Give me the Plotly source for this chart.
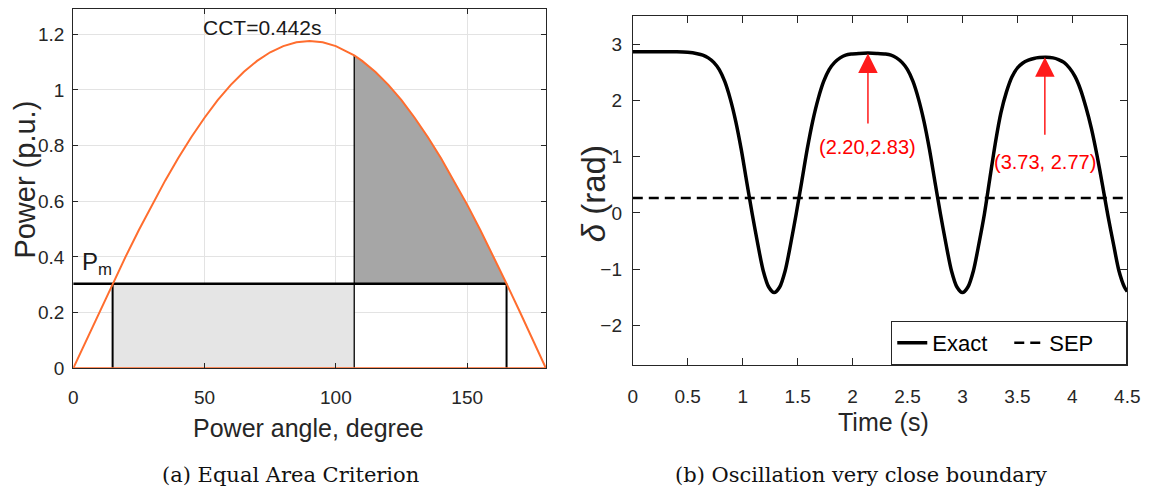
import plotly.graph_objects as go

# ---------------- data: (a) Equal Area Criterion ----------------
angle_deg = [0, 5, 10, 15, 20, 25, 30, 35, 40, 45, 50, 55, 60, 65, 70, 75, 80, 85, 90,
             95, 100, 105, 107, 110, 115, 120, 125, 130, 135, 140, 145, 150, 155, 160,
             165, 170, 175, 180]
power_pu = [0.000, 0.102, 0.204, 0.304, 0.402, 0.497, 0.588, 0.674, 0.755, 0.831, 0.900,
            0.963, 1.018, 1.065, 1.104, 1.135, 1.157, 1.171, 1.175,
            1.171, 1.157, 1.135, 1.124, 1.104, 1.065, 1.018, 0.963, 0.900, 0.831, 0.755,
            0.674, 0.588, 0.497, 0.402, 0.304, 0.204, 0.102, 0.000]
Pm = 0.304
delta0 = 15
delta_c = 107
delta_max = 165
cct_text = "CCT=0.442s"
xticks_a = [0, 50, 100, 150]
yticks_a = [0, 0.2, 0.4, 0.6, 0.8, 1.0, 1.2]
yticklabels_a = ["0", "0.2", "0.4", "0.6", "0.8", "1", "1.2"]

# ---------------- data: (b) Oscillation very close boundary ----------------
time_s = [0.0, 0.2, 0.4, 0.5, 0.587, 0.637, 0.687, 0.737, 0.787, 0.837, 0.887, 0.937,
          0.987, 1.037, 1.087, 1.137, 1.187, 1.237, 1.287, 1.337, 1.387, 1.437, 1.487,
          1.537, 1.587, 1.637, 1.687, 1.737, 1.787, 1.837, 1.887, 1.937, 1.987, 2.06,
          2.14, 2.22, 2.30, 2.35, 2.40, 2.45, 2.50, 2.55, 2.60, 2.65, 2.70, 2.75, 2.80,
          2.85, 2.90, 2.95, 3.00, 3.05, 3.10, 3.15, 3.20, 3.25, 3.30, 3.35, 3.40, 3.45,
          3.50, 3.55, 3.60, 3.65, 3.70, 3.76, 3.824, 3.874, 3.924, 3.974, 4.024, 4.074,
          4.124, 4.174, 4.224, 4.274, 4.324, 4.374, 4.424, 4.474, 4.50]
delta_rad = [2.87, 2.87, 2.87, 2.86, 2.835, 2.81, 2.76, 2.68, 2.55, 2.34, 2.03, 1.63,
             1.13, 0.55, -0.02, -0.55, -1.03, -1.32, -1.42, -1.32, -1.03, -0.55, -0.02,
             0.55, 1.13, 1.63, 2.03, 2.34, 2.55, 2.68, 2.76, 2.81, 2.83, 2.84,
             2.845, 2.84, 2.83, 2.81, 2.76, 2.68, 2.55, 2.34, 2.03, 1.63, 1.13, 0.55, -0.02,
             -0.55, -1.03, -1.32, -1.42, -1.32, -1.03, -0.55, -0.02, 0.62, 1.25, 1.78, 2.15, 2.42,
             2.58, 2.67, 2.72, 2.75, 2.765, 2.77, 2.76, 2.73, 2.68, 2.58, 2.43, 2.20,
             1.88, 1.50, 1.03, 0.50, -0.05, -0.55, -1.03, -1.32, -1.40]
sep_rad = 0.265
peaks_t = [2.14, 3.75]
peaks_delta = [2.84, 2.77]
arrow_tail_delta = [1.59, 1.39]
peak_labels = ["(2.20,2.83)", "(3.73, 2.77)"]
label_delta = [1.17, 0.90]
xticks_b = [0, 0.5, 1, 1.5, 2, 2.5, 3, 3.5, 4, 4.5]
xticklabels_b = ["0", "0.5", "1", "1.5", "2", "2.5", "3", "3.5", "4", "4.5"]
yticks_b = [-2, -1, 0, 1, 2, 3]

# ---------------- styling ----------------
W, H = 1157, 497
SANS = "Liberation Sans, Arial, sans-serif"
SERIF = "DejaVu Serif, Liberation Serif, serif"
AX = "#262626"
ORANGE = "#FF6D2E"

fig = go.Figure()

# light grey accelerating area
fig.add_trace(go.Scatter(
    x=[delta0, delta_c, delta_c, delta0], y=[0, 0, Pm, Pm],
    fill="toself", fillcolor="#e5e5e5", mode="none", hoverinfo="skip",
    showlegend=False, xaxis="x", yaxis="y"))

# dark grey decelerating area
dec_x = [a for a in angle_deg if delta_c <= a <= delta_max]
dec_y = [p for a, p in zip(angle_deg, power_pu) if delta_c <= a <= delta_max]
fig.add_trace(go.Scatter(
    x=dec_x + [delta_max, delta_c], y=dec_y + [Pm, Pm],
    fill="toself", fillcolor="#a6a6a6", mode="none", hoverinfo="skip",
    showlegend=False, xaxis="x", yaxis="y"))

# black construction lines
p_c = power_pu[angle_deg.index(delta_c)]
fig.add_trace(go.Scatter(x=[angle_deg[0], delta_max], y=[Pm, Pm], mode="lines",
                         line=dict(color="black", width=2.6), showlegend=False,
                         hoverinfo="skip", xaxis="x", yaxis="y"))
for xv, top, w in [(delta0, Pm, 2.0), (delta_max, Pm, 2.0), (delta_c, p_c, 1.3)]:
    fig.add_trace(go.Scatter(x=[xv, xv], y=[0, top], mode="lines",
                             line=dict(color="black", width=w), showlegend=False,
                             hoverinfo="skip", xaxis="x", yaxis="y"))

# power-angle curve and baseline
fig.add_trace(go.Scatter(x=angle_deg, y=power_pu, mode="lines",
                         line=dict(color=ORANGE, width=2), showlegend=False,
                         hoverinfo="skip", xaxis="x", yaxis="y"))
fig.add_trace(go.Scatter(x=[angle_deg[0], angle_deg[-1]], y=[0, 0], mode="lines",
                         line=dict(color=ORANGE, width=2), showlegend=False,
                         hoverinfo="skip", xaxis="x", yaxis="y"))

# (b) traces
fig.add_trace(go.Scatter(x=time_s, y=delta_rad, mode="lines", name="Exact",
                         line=dict(color="black", width=3.5, shape="spline", smoothing=0.8),
                         xaxis="x2", yaxis="y2"))
fig.add_trace(go.Scatter(x=[xticks_b[0], xticks_b[-1]], y=[sep_rad, sep_rad], mode="lines",
                         name="SEP", line=dict(color="black", width=2.5, dash="10px,6px"),
                         xaxis="x2", yaxis="y2"))

tickfont = dict(family=SANS, size=19, color=AX)
common = dict(showline=True, linecolor=AX, linewidth=1, mirror="ticks", ticks="inside",
              tickcolor=AX, zeroline=False, tickfont=tickfont)


def label(text, x, y, size, color=AX, family=SANS, xref="paper", yref="paper", angle=0):
    return dict(text=text, x=x, y=y, xref=xref, yref=yref, showarrow=False,
                xanchor="center", yanchor="middle", textangle=angle,
                font=dict(family=family, size=size, color=color))


annotations = [
    label(cct_text, 72, 1.224, 21, "#1a1a1a", xref="x", yref="y"),
    label("P<sub>m</sub>", 9, 0.375, 24, "#1a1a1a", xref="x", yref="y"),
    label("Power angle, degree", 308.5 / W, 1 - 438 / H, 25),
    label("Power (p.u.)", 20 / W, 1 - 184 / H, 29, angle=-90),
    label("Time (s)", 892 / W, 1 - 432 / H, 25),
    label("<i>δ</i> (rad)", 598 / W, 1 - 198 / H, 33, angle=-90),
    label("(a) Equal Area Criterion", 290 / W, 1 - 486 / H, 21, "#111", SERIF),
    label("(b) Oscillation very close boundary", 870 / W, 1 - 486 / H, 21, "#111", SERIF),
]
# arrows pointing at the peaks, with their coordinate labels at the arrow tails
PX_PER_RAD = (373.3 - 16.7) / (3.5 + 2.71)
for pt, pd_, tail, lab, ld in zip(peaks_t, peaks_delta, arrow_tail_delta, peak_labels,
                                  label_delta):
    gap = (tail - ld) * PX_PER_RAD - 12
    annotations.append(dict(x=pt, y=pd_, ax=pt, ay=ld, xref="x2", yref="y2",
                            axref="x2", ayref="y2", text=lab, showarrow=True,
                            arrowhead=2, arrowsize=2.6, arrowwidth=1.5,
                            arrowcolor="#ff1a1a", startstandoff=gap, borderpad=0,
                            font=dict(family=SANS, size=20, color="#ff0000")))

fig.update_layout(
    width=W, height=H, margin=dict(l=0, r=0, t=0, b=0),
    paper_bgcolor="white", plot_bgcolor="white",
    xaxis=dict(domain=[69.3 / W, 549.5 / W], range=[0, 180], tickvals=xticks_a,
               showgrid=True, gridcolor="#e3e3e3", gridwidth=1, ticklen=5,
               ticklabelstandoff=12, **common),
    yaxis=dict(domain=[1 - 376.7 / H, 1 - 9.3 / H], range=[0, 1.29], tickvals=yticks_a,
               ticktext=yticklabels_a, showgrid=True, gridcolor="#e3e3e3", gridwidth=1,
               ticklen=5, ticklabelstandoff=4, **common),
    xaxis2=dict(domain=[637.7 / W, 1140 / W], range=[0, 4.5], tickvals=xticks_b,
                ticktext=xticklabels_b, showgrid=False, ticklen=7,
                ticklabelstandoff=14, anchor="y2", **common),
    yaxis2=dict(domain=[1 - 373.3 / H, 1 - 16.7 / H], range=[-2.71, 3.5], tickvals=yticks_b,
                showgrid=False, ticklen=7, ticklabelstandoff=6, anchor="x2", **common),
    legend=dict(orientation="h", x=1140 / W, xanchor="right", y=1 - 373.3 / H,
                yanchor="bottom", bordercolor=AX, borderwidth=1, bgcolor="white",
                font=dict(family=SANS, size=22, color="black"), entrywidth=72,
                tracegroupgap=0),
    annotations=annotations,
    showlegend=True,
)

fig.write_html("out.html", config={"displayModeBar": False},
               post_script="document.body.style.margin='0px';"
                           "document.body.style.overflow='hidden';")
